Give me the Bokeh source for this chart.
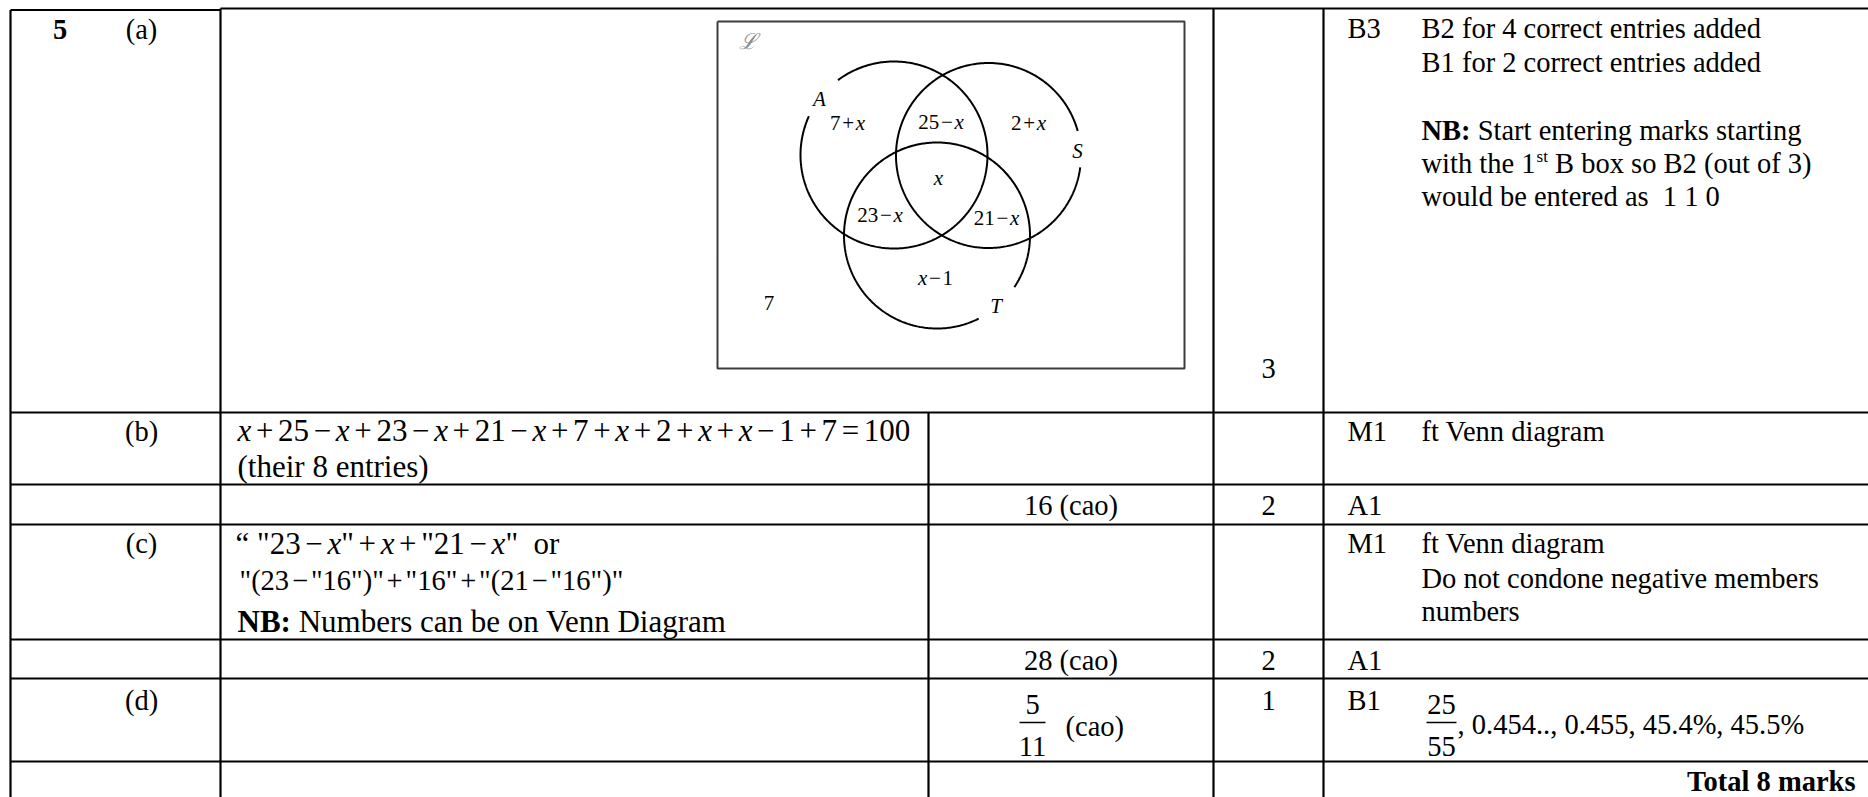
import numpy as np
from collections import OrderedDict
from bokeh.plotting import figure
from bokeh.models import Range1d, ColumnDataSource
from bokeh.core.properties import value
from bokeh.embed import file_html
from bokeh.resources import INLINE

# ---------------- content (data) ----------------
question = "5"
part_labels = ["(a)", "(b)", "(c)", "(d)"]

venn_sets = ["A", "S", "T"]
venn_regions = ["7+x", "25−x", "2+x", "x", "23−x", "21−x", "x−1", "7"]
universal_symbol = "ℒ"

method_b = ["x+25−x+23−x+21−x+7+x+2+x+x−1+7=100", "(their 8 entries)"]
method_c = ['“ "23−x"+x+"21−x"  or', '"(23−"16")"+"16"+"(21−"16")"']
method_c_nb = ("NB:", "Numbers can be on Venn Diagram")

answers = ["16 (cao)", "28 (cao)"]
answer_d = ("5", "11", "(cao)")
marks = ["3", "2", "2", "1"]
codes = ["B3", "M1", "A1", "M1", "A1", "B1"]

notes_a = ["B2 for 4 correct entries added", "B1 for 2 correct entries added"]
notes_a_nb = ("NB:", "Start entering marks starting")
notes_a_more = [("with the 1", "st", "B box so B2 (out of 3)"), "would be entered as\u00a0 1 1 0"]
notes_b = ["ft Venn diagram"]
notes_c = ["ft Venn diagram", "Do not condone negative members", "numbers"]
notes_d = ("25", "55", ", 0.454.., 0.455, 45.4%, 45.5%")
total_text = "Total 8 marks"

# ---------------- layout (positions / sizes / styles) ----------------
SERIF = "Liberation Serif"
FS = 28.5      # general table text
FM = 31        # method column text
FV = 21        # venn labels
W, H = 1868, 797
BASELINE_FIX = 0.26   # em, renderer baseline correction

col_edges = [10, 220, 928, 1213, 1323, 1868]
row_edges = [8, 412, 484, 524, 639, 678, 761]
page_bottom = 800

venn_box = (717, 1184, 21, 368)          # left, right, top, bottom
venn_cx = [893.5, 988.0, 936.5]
venn_cy = [154.5, 155.0, 235.0]
venn_r = [93.5, 92.5, 93.0]
venn_gap_from = [126.8, -7.4, -63.4]     # degrees, anticlockwise
venn_gap_to = [155.5, 15.4, -33.7]
venn_set_pos = [(819, 104), (1077, 156), (995.5, 311)]
venn_region_pos = [(847, 127.5), (940.5, 126.5), (1028, 128), (938, 183),
                   (879.5, 220), (996, 222.5), (935, 283), (768.5, 308)]

# Times / Liberation Serif advance widths (1/1000 em)
REG = {' ': 250, '!': 333, '"': 408, '%': 833, '(': 333, ')': 333, '+': 564, ',': 250,
       '-': 333, '.': 250, ':': 278, '=': 564, '−': 564, '“': 444}
for d in "0123456789":
    REG[d] = 500
REG.update(dict(zip("ABCDEFGHIJKLMNOPQRSTUVWXYZ",
                    [722, 667, 667, 722, 611, 556, 722, 722, 333, 389, 722, 611, 889, 722, 722,
                     556, 722, 667, 556, 611, 722, 722, 944, 722, 722, 611])))
REG.update(dict(zip("abcdefghijklmnopqrstuvwxyz",
                    [444, 500, 444, 500, 444, 333, 500, 500, 278, 278, 500, 278, 778, 500, 500,
                     500, 500, 333, 389, 278, 500, 500, 722, 500, 500, 444])))
ITA = {'x': 444, 'A': 611, 'S': 500, 'T': 556}
BOLD = {'N': 722, 'B': 667, ':': 333, ' ': 250}

recs = []


def add(t, x, y, size, style="normal", align="left", font=SERIF, color="black"):
    recs.append((t, x, y - BASELINE_FIX * size, size, style, align, font, color))


def wid(text, table=REG):
    return sum(table.get(c, 500) for c in text) / 1000.0


def tokens(s):
    out = []
    for ch in s:
        if ch == ' ':
            k = 'sp'
        elif ch == 'x':
            k = 'it'
        elif ch in '+−=':
            k = 'op'
        else:
            k = 'rm'
        if out and out[-1][1] == k and k in ('rm', 'sp'):
            out[-1] = (out[-1][0] + ch, k)
        else:
            out.append((ch, k))
    return out


def place_math(s, x, y, size, pad, align="left"):
    toks = tokens(s)

    def w(t, k):
        return wid(t, ITA if k == 'it' else REG) * size

    total = sum(w(t, k) + (2 * pad * size if k == 'op' else 0) for t, k in toks)
    if align == "center":
        x -= total / 2
    for t, k in toks:
        if k == 'op':
            x += pad * size
            add(t, x, y, size)
            x += w(t, k) + pad * size
        elif k == 'sp':
            x += w(t, k)
        else:
            add(t, x, y, size, "italic" if k == 'it' else "normal")
            x += w(t, k)


def place_nb(nb, rest, x, y, size):
    add(nb, x, y, size, "bold")
    add(rest, x + wid(nb + " ", BOLD) * size, y, size)


p = figure(width=W, height=H, x_range=Range1d(0, W), y_range=Range1d(H, 0),
           output_backend="svg", toolbar_location=None,
           x_axis_location=None, y_axis_location=None, min_border=0,
           outline_line_color=None, background_fill_color="white",
           border_fill_color="white")
p.xgrid.visible = False
p.ygrid.visible = False

# ---------------- table rules ----------------
L, C1, C2, C3, C4, R = col_edges
segs = [
    (L, row_edges[0] + 1.5, C1, row_edges[0] + 1.5),     # top of first column (slightly lower)
    (C1, row_edges[0], R, row_edges[0]),
]
for ry in row_edges[1:]:
    segs.append((L, ry, R, ry))
segs += [
    (L, row_edges[0] + 1.5, L, page_bottom),
    (C1, row_edges[0], C1, page_bottom),
    (C2, row_edges[1], C2, page_bottom),
    (C3, row_edges[0], C3, page_bottom),
    (C4, row_edges[0], C4, page_bottom),
]
sx0, sy0, sx1, sy1 = zip(*segs)
p.segment(x0=list(sx0), y0=list(sy0), x1=list(sx1), y1=list(sy1),
          line_color="black", line_width=2.2)

# ---------------- Venn diagram ----------------
bl, br, bt, bb = venn_box
p.multi_line(xs=[[bl, br, br, bl, bl]], ys=[[bt, bt, bb, bb, bt]],
             line_color="#3c3c3c", line_width=2)
arc_xs, arc_ys = [], []
for cx, cy, r, g0, g1 in zip(venn_cx, venn_cy, venn_r, venn_gap_from, venn_gap_to):
    th = np.radians(np.linspace(g1, g0 + 360, 400))
    arc_xs.append(list(cx + r * np.cos(th)))
    arc_ys.append(list(cy - r * np.sin(th)))
p.multi_line(xs=arc_xs, ys=arc_ys, line_color="black", line_width=2)

add(universal_symbol, 747, 47, 22, "italic", "center", "DejaVu Serif", "#8c8c8c")
for name, (x, y) in zip(venn_sets, venn_set_pos):
    add(name, x, y, FV, "italic", "center")
for lab, (x, y) in zip(venn_regions, venn_region_pos):
    place_math(lab, x, y, FV, 0.08, "center")

# ---------------- column 1: question / parts ----------------
add(question, 59.5, 36, FS, "bold", "center")
for lab, y in zip(part_labels, [36, 438, 550, 707]):
    add(lab, 141, y, FS, "normal", "center")

# ---------------- method column ----------------
MX = 237
place_math(method_b[0], MX, 438, FM, 0.15)
add(method_b[1], MX, 474, FM)
place_math(method_c[0], MX - 2, 551, FM, 0.15)
place_math(method_c[1], MX + 2, 587, FS, 0.1)
place_nb(method_c_nb[0], method_c_nb[1], MX, 629, FM)

# ---------------- answer column ----------------
AX = (C2 + C3) / 2
add(answers[0], AX, 512, FS, "normal", "center")
add(answers[1], AX, 667, FS, "normal", "center")
add(answer_d[0], 1032, 711, FS, "normal", "center")
add(answer_d[1], 1032, 753, FS, "normal", "center")
p.segment(x0=[1019], y0=[722], x1=[1045], y1=[722], line_color="black", line_width=1.5)
add(answer_d[2], 1065, 733, FS)

# ---------------- marks column ----------------
MKX = (C3 + C4) / 2
for m, y in zip(marks, [375, 512, 667, 707]):
    add(m, MKX, y, FS, "normal", "center")

# ---------------- guidance column ----------------
for c, y in zip(codes, [35, 438, 512, 550, 667, 707]):
    add(c, 1347, y, FS)
NX = 1421
add(notes_a[0], NX, 35, FS)
add(notes_a[1], NX, 69, FS)
place_nb(notes_a_nb[0], notes_a_nb[1], NX, 137, FS)
pre, sup, post = notes_a_more[0]
add(pre, NX, 170, FS)
xs = NX + wid(pre) * FS
add(sup, xs + 1, 160, FS * 0.6)
add(post, xs + wid(sup) * FS * 0.6 + wid(" ") * FS + 1, 170, FS)
add(notes_a_more[1], NX, 203, FS)
add(notes_b[0], NX, 438, FS)
for t, y in zip(notes_c, [550, 585, 618]):
    add(t, NX, y, FS)
add(notes_d[0], 1441, 711, FS, "normal", "center")
add(notes_d[1], 1441, 753, FS, "normal", "center")
p.segment(x0=[1426], y0=[722], x1=[1456], y1=[722], line_color="black", line_width=1.5)
add(notes_d[2], 1457, 731, FS)
add(total_text, 1855, 788, FS, "bold", "right")

# ---------------- emit texts ----------------
groups = OrderedDict()
for t, x, y, size, style, align, font, color in recs:
    key = (size, style, align, font, color)
    g = groups.setdefault(key, dict(x=[], y=[], text=[]))
    g["x"].append(x)
    g["y"].append(y)
    g["text"].append(t)
for (size, style, align, font, color), g in groups.items():
    p.text(x="x", y="y", text="text", source=ColumnDataSource(g),
           text_font=value(font), text_font_size=f"{size}px", text_font_style=style,
           text_align=align, text_baseline="alphabetic", text_color=color)

open("out.html", "w").write(file_html(p, INLINE))
